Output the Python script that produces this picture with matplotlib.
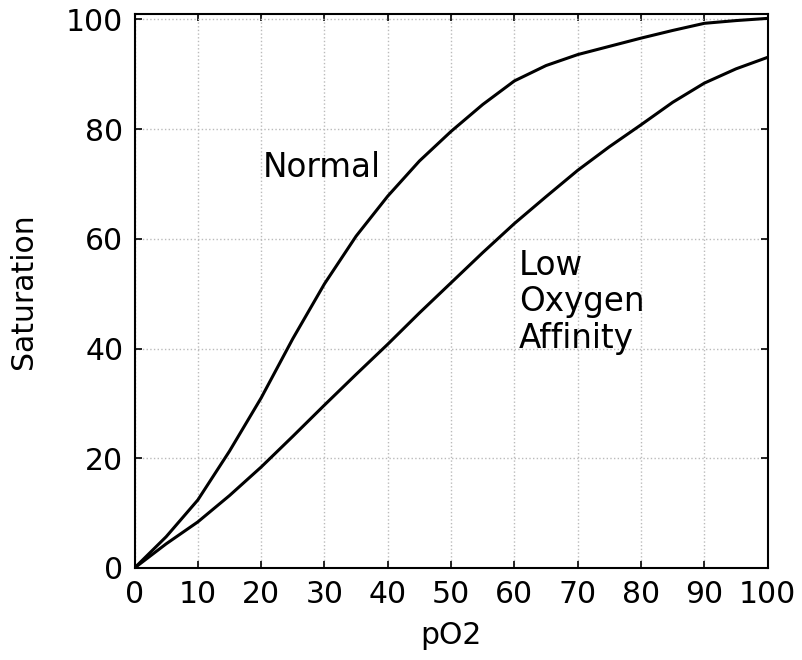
import matplotlib
matplotlib.use("Agg")
import matplotlib.pyplot as plt

# oxygen partial pressure (x) and % saturation for both curves
po2 = [0, 5, 10, 15, 20, 25, 30, 35, 40, 45, 50,
       55, 60, 65, 70, 75, 80, 85, 90, 95, 100]
normal = [0, 5.7, 12.4, 21.3, 31, 41.8, 51.8, 60.5, 67.8, 74.2, 79.6,
          84.5, 88.8, 91.6, 93.6, 95.1, 96.6, 98, 99.3, 99.8, 100.2]
low_affinity = [0, 4.4, 8.4, 13.2, 18.4, 24, 29.7, 35.3, 40.8, 46.5, 52,
                57.5, 62.8, 67.7, 72.5, 76.8, 80.8, 84.9, 88.4, 91, 93.1]

xticks = list(range(0, 101, 10))
yticks = list(range(0, 101, 20))

plt.rcParams['font.family'] = ['DejaVu Sans']

fig = plt.figure(figsize=(8.03, 6.6), dpi=100)
ax = fig.add_axes([0.1675, 0.1394, 0.7885, 0.8394])

ax.plot(po2, normal, color='black', lw=2.2)
ax.plot(po2, low_affinity, color='black', lw=2.2)

ax.text(20.2, 73, 'Normal', fontsize=23.5, va='center', ha='left')
ax.text(60.7, 48.5, 'Low\nOxygen\nAffinity', fontsize=23.5, va='center',
        ha='left', linespacing=1.15)

ax.set_xlim(0, 100)
ax.set_ylim(0, 101)
ax.set_xticks(xticks)
ax.set_yticks(yticks)
ax.grid(True, color='#bbbbbb', linestyle=':', linewidth=1.0)

ax.tick_params(direction='in', top=True, right=True, length=5, width=1.2,
               labelsize=21.5)
ax.tick_params(axis='x', pad=9)
ax.tick_params(axis='y', pad=8)
for s in ax.spines.values():
    s.set_linewidth(1.5)

ax.set_xlabel('pO2', fontsize=21.5, labelpad=8)
ax.set_ylabel('Saturation', fontsize=21.5, labelpad=20)

fig.savefig('out.png', dpi=100)
